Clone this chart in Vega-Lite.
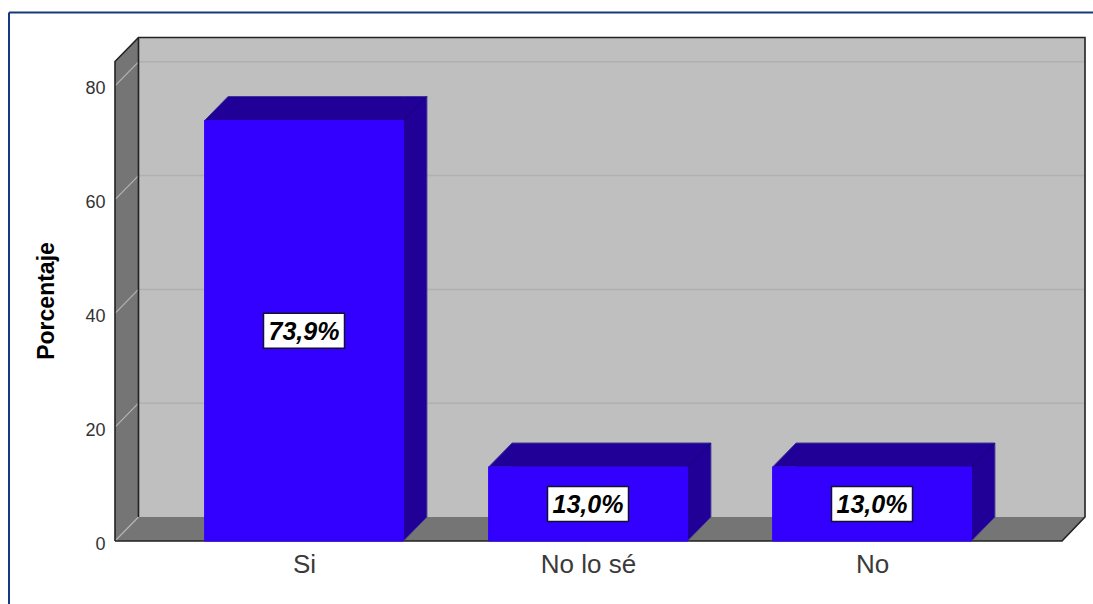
{
  "$schema": "https://vega.github.io/schema/vega-lite/v6.json",
  "width": 970,
  "height": 503.5,
  "autosize": {"type": "none"},
  "padding": {"left": 115, "top": 37.5, "right": 8, "bottom": 63},
  "background": "#ffffff",
  "config": {"view": {"stroke": null}, "font": "Liberation Sans"},
  "params": [
    {"name": "hondoX", "value": 0.0827},
    {"name": "hondoY", "value": 4.22},
    {"name": "medioAncho", "value": 0.35}
  ],
  "datasets": {
    "respuestas": [
      {"categoria": "Si", "orden": 0, "porcentaje": 73.9, "etiqueta": "73,9%"},
      {"categoria": "No lo sé", "orden": 1, "porcentaje": 13.0, "etiqueta": "13,0%"},
      {"categoria": "No", "orden": 2, "porcentaje": 13.0, "etiqueta": "13,0%"}
    ],
    "marcas": [{"v": 0}, {"v": 20}, {"v": 40}, {"v": 60}, {"v": 80}],
    "fondo": [{"xa": -0.5828, "xb": 2.75, "ya": 4.22, "yb": 88.49}],
    "paredIzquierda": [
      {"px": -0.6655, "bajo": 0, "alto": 84.27},
      {"px": -0.5828, "bajo": 4.22, "alto": 88.49}
    ],
    "suelo": [
      {"px": -0.6655, "bajo": 0, "alto": 0},
      {"px": -0.5828, "bajo": 0, "alto": 4.22},
      {"px": 2.669, "bajo": 0, "alto": 4.22},
      {"px": 2.75, "bajo": 4.22, "alto": 4.22}
    ],
    "contorno": [
      {"paso": 0, "px": -0.6655, "py": 0},
      {"paso": 1, "px": -0.6655, "py": 84.27},
      {"paso": 2, "px": -0.5828, "py": 88.49},
      {"paso": 3, "px": 2.75, "py": 88.49},
      {"paso": 4, "px": 2.75, "py": 4.22},
      {"paso": 5, "px": 2.669, "py": 0},
      {"paso": 6, "px": -0.6655, "py": 0}
    ],
    "marco": [{"xa": -1.0387, "xb": 2.7782, "ya": 92.9, "yb": -11.07}]
  },
  "layer": [
    {
      "description": "Pared del fondo",
      "data": {"name": "fondo"},
      "mark": {"type": "rect", "color": "#bfbfbf"},
      "encoding": {
        "x": {
          "field": "xa",
          "type": "quantitative",
          "scale": {"domain": [-0.6655, 2.75], "nice": false, "zero": false},
          "axis": {
            "values": [0, 1, 2],
            "labelExpr": "datum.value == 0 ? 'Si' : datum.value == 1 ? 'No lo sé' : 'No'",
            "title": null,
            "domain": false,
            "ticks": false,
            "grid": false,
            "labelFontSize": 26,
            "labelColor": "#3a3a3a",
            "labelPadding": 10,
            "labelFont": "Liberation Sans"
          }
        },
        "x2": {"field": "xb"},
        "y": {
          "field": "ya",
          "type": "quantitative",
          "scale": {"domain": [0, 88.49], "nice": false, "zero": false},
          "axis": {
            "values": [0, 20, 40, 60, 80],
            "title": "Porcentaje",
            "titleFontSize": 23,
            "titleFontWeight": "bold",
            "titleColor": "#000000",
            "titleX": -57,
            "titleY": 263,
            "domain": false,
            "ticks": false,
            "grid": false,
            "labelFontSize": 18,
            "labelColor": "#333333",
            "labelPadding": 10,
            "labelOffset": 3,
            "labelFont": "Liberation Sans"
          }
        },
        "y2": {"field": "yb"}
      }
    },
    {
      "description": "Pared izquierda",
      "data": {"name": "paredIzquierda"},
      "mark": {"type": "area", "color": "#757575", "opacity": 1},
      "encoding": {
        "x": {"field": "px", "type": "quantitative"},
        "y": {"field": "bajo", "type": "quantitative", "stack": null},
        "y2": {"field": "alto"}
      }
    },
    {
      "description": "Suelo",
      "data": {"name": "suelo"},
      "mark": {"type": "area", "color": "#757575", "opacity": 1},
      "encoding": {
        "x": {"field": "px", "type": "quantitative"},
        "y": {"field": "bajo", "type": "quantitative", "stack": null},
        "y2": {"field": "alto"}
      }
    },
    {
      "description": "Rejilla sobre la pared del fondo",
      "data": {"name": "marcas"},
      "transform": [
        {"filter": "datum.v > 0"},
        {"calculate": "datum.v + hondoY", "as": "vFondo"},
        {"calculate": "-0.5828", "as": "xa"},
        {"calculate": "2.75", "as": "xb"}
      ],
      "mark": {"type": "rule", "color": "#b0b0b0", "strokeWidth": 1.5},
      "encoding": {
        "x": {"field": "xa", "type": "quantitative"},
        "x2": {"field": "xb"},
        "y": {"field": "vFondo", "type": "quantitative"}
      }
    },
    {
      "description": "Rejilla diagonal sobre la pared izquierda",
      "data": {"name": "marcas"},
      "transform": [
        {"calculate": "datum.v + hondoY", "as": "vFondo"},
        {"calculate": "-0.6655", "as": "xa"},
        {"calculate": "-0.5828", "as": "xb"}
      ],
      "mark": {"type": "rule", "color": "#b4b4b4", "strokeWidth": 1.2},
      "encoding": {
        "x": {"field": "xa", "type": "quantitative"},
        "x2": {"field": "xb"},
        "y": {"field": "v", "type": "quantitative"},
        "y2": {"field": "vFondo"}
      }
    },
    {
      "description": "Contorno de la caja",
      "data": {"name": "contorno"},
      "mark": {"type": "line", "color": "#222222", "strokeWidth": 1.6, "strokeJoin": "miter"},
      "encoding": {
        "x": {"field": "px", "type": "quantitative"},
        "y": {"field": "py", "type": "quantitative"},
        "order": {"field": "paso"}
      }
    },
    {
      "description": "Arista interior de la pared izquierda",
      "data": {"name": "fondo"},
      "mark": {"type": "rule", "color": "#222222", "strokeWidth": 1.6},
      "encoding": {
        "x": {"field": "xa", "type": "quantitative"},
        "y": {"field": "ya", "type": "quantitative"},
        "y2": {"field": "yb"}
      }
    },
    {
      "description": "Caras superior y lateral de cada barra",
      "data": {"name": "respuestas"},
      "transform": [
        {"calculate": "[datum.orden - medioAncho, datum.orden - medioAncho + hondoX, datum.orden + medioAncho, datum.orden + medioAncho + hondoX]", "as": "caraX"},
        {"calculate": "[datum.porcentaje, datum.porcentaje, 0, hondoY]", "as": "caraBajo"},
        {"calculate": "[datum.porcentaje, datum.porcentaje + hondoY, datum.porcentaje + hondoY, datum.porcentaje + hondoY]", "as": "caraAlto"},
        {"flatten": ["caraX", "caraBajo", "caraAlto"]}
      ],
      "mark": {"type": "area", "color": "#200096", "opacity": 1, "stroke": "#3d3696", "strokeWidth": 1},
      "encoding": {
        "x": {"field": "caraX", "type": "quantitative"},
        "y": {"field": "caraBajo", "type": "quantitative", "stack": null},
        "y2": {"field": "caraAlto"},
        "detail": {"field": "categoria"}
      }
    },
    {
      "description": "Arista entre la cara superior y la lateral",
      "data": {"name": "respuestas"},
      "transform": [
        {"calculate": "datum.orden + medioAncho", "as": "x0"},
        {"calculate": "datum.orden + medioAncho + hondoX", "as": "x1"},
        {"calculate": "datum.porcentaje + hondoY", "as": "yFondo"}
      ],
      "mark": {"type": "rule", "color": "#1a0078", "strokeWidth": 1},
      "encoding": {
        "x": {"field": "x0", "type": "quantitative"},
        "x2": {"field": "x1"},
        "y": {"field": "porcentaje", "type": "quantitative"},
        "y2": {"field": "yFondo"}
      }
    },
    {
      "description": "Cara frontal de cada barra",
      "data": {"name": "respuestas"},
      "transform": [
        {"calculate": "datum.orden - medioAncho", "as": "x0"},
        {"calculate": "datum.orden + medioAncho", "as": "x1"},
        {"calculate": "0", "as": "base"}
      ],
      "mark": {"type": "rect", "color": "#3300ff", "stroke": "#3300ff", "strokeWidth": 1},
      "encoding": {
        "x": {"field": "x0", "type": "quantitative"},
        "x2": {"field": "x1"},
        "y": {"field": "base", "type": "quantitative"},
        "y2": {"field": "porcentaje"}
      }
    },
    {
      "description": "Recuadro blanco de cada etiqueta",
      "data": {"name": "respuestas"},
      "transform": [{"calculate": "datum.porcentaje / 2", "as": "centro"}],
      "mark": {"type": "rect", "width": 81, "height": 35, "color": "#ffffff", "stroke": "#111133", "strokeWidth": 1.5},
      "encoding": {
        "x": {"field": "orden", "type": "quantitative"},
        "y": {"field": "centro", "type": "quantitative"}
      }
    },
    {
      "description": "Etiquetas de porcentaje",
      "data": {"name": "respuestas"},
      "transform": [{"calculate": "datum.porcentaje / 2", "as": "centro"}],
      "mark": {"type": "text", "font": "Liberation Sans", "fontSize": 25, "fontWeight": "bold", "fontStyle": "italic", "color": "#000000", "align": "center", "baseline": "middle", "dy": 1},
      "encoding": {
        "x": {"field": "orden", "type": "quantitative"},
        "y": {"field": "centro", "type": "quantitative"},
        "text": {"field": "etiqueta"}
      }
    },
    {
      "description": "Marco exterior: lado superior",
      "data": {"name": "marco"},
      "mark": {"type": "rule", "color": "#17387f", "strokeWidth": 2},
      "encoding": {
        "x": {"field": "xa", "type": "quantitative"},
        "x2": {"field": "xb"},
        "y": {"field": "ya", "type": "quantitative"}
      }
    },
    {
      "description": "Marco exterior: lado izquierdo",
      "data": {"name": "marco"},
      "mark": {"type": "rule", "color": "#17387f", "strokeWidth": 2},
      "encoding": {
        "x": {"field": "xa", "type": "quantitative"},
        "y": {"field": "ya", "type": "quantitative"},
        "y2": {"field": "yb"}
      }
    }
  ]
}
